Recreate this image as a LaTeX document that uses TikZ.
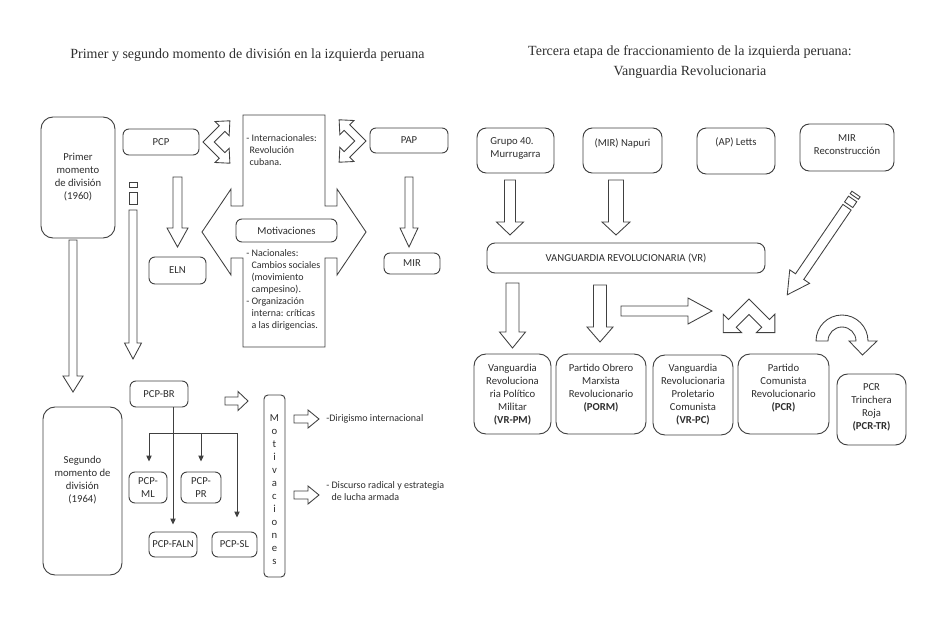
\documentclass[tikz,border=0pt]{standalone}
\usepackage{fontspec}
\setmainfont{Carlito}
\newfontfamily\ttlfont{Liberation Serif}
\usetikzlibrary{arrows.meta,calc}
\definecolor{lc}{HTML}{404040}
\definecolor{tc}{HTML}{2E2E2E}
\newcommand\fs{\fontsize{8}{9.75}\selectfont}
% box: [opts]{x1}{y1}{x2}{y2}{name}{text dy}{text}
\newcommand{\bx}[8][]{%
  \node[box,#1,minimum width={(#4-#2)*0.75pt},minimum height={(#5-#3)*0.75pt}] (#6) at ({(#2+#4)/2},{(#3+#5)/2}) {};
  \node[txt] (#6-t) at ($(#6.center)+(0,#7)$) {#8};}
% vertical block arrow: {cx}{ytop}{yhead}{ytip}{shaft half}{head half}
\newcommand{\varrow}[6]{\draw[blk] ({#1-#5},#2) -- ({#1+#5},#2) -- ({#1+#5},#3) -- ({#1+#6},#3) -- (#1,#4) -- ({#1-#6},#3) -- ({#1-#5},#3) -- cycle;}
% horizontal block arrow: {cy}{xleft}{xhead}{xtip}{shaft half}{head half}
\newcommand{\harrow}[6]{\draw[blk] (#2,{#1-#5}) -- (#3,{#1-#5}) -- (#3,{#1-#6}) -- (#4,#1) -- (#3,{#1+#6}) -- (#3,{#1+#5}) -- (#2,{#1+#5}) -- cycle;}
% L-shaped double arrow: {x}{y}{rot}{L}{w}{head w}{head l}
\newcommand{\larrow}[7]{\begin{scope}[shift={(#1,#2)},rotate=#3]
 \draw[blk] (0,0) -- ({#4-#7},0) -- ({#4-#7},{#5/2-#6/2}) -- (#4,{#5/2}) -- ({#4-#7},{#5/2+#6/2}) -- ({#4-#7},#5) -- (#5,#5) -- (#5,{#4-#7}) -- ({#5/2+#6/2},{#4-#7}) -- ({#5/2},#4) -- ({#5/2-#6/2},{#4-#7}) -- (0,{#4-#7}) -- cycle;
\end{scope}}
\begin{document}
\begin{tikzpicture}[x=0.75pt,y=-0.75pt,
 box/.style={draw=lc,line width=0.7pt,rounded corners=4.5pt,inner sep=0pt,fill=white},
 txt/.style={inner sep=0pt,align=center,text=tc,font=\fs},
 blk/.style={draw=lc,line width=0.65pt,fill=white,line join=miter},
 conn/.style={draw=lc,line width=0.75pt,-{Triangle[length=4.5pt,width=4pt]}},
 ttl/.style={inner sep=0pt,align=center,text=tc,font=\ttlfont\fontsize{10.5}{15}\selectfont}]
\useasboundingbox (0,0) rectangle (945,625);

% titles
\node[ttl] (t1) at (247.5,55) {Primer y segundo momento de división en la izquierda peruana};
\node[ttl] (t2) at (690,62) {Tercera etapa de fraccionamiento de la izquierda peruana:\\Vanguardia Revolucionaria};

% ---------- left part ----------
\bx[rounded corners=9pt]{41}{117}{115}{238}{primer}{0}{Primer\\momento\\de división\\(1960)}
\bx{123}{129}{199}{155}{pcp}{0}{PCP}
\bx{149}{257}{206}{284}{eln}{0}{ELN}
\bx{370}{128}{448}{153}{pap}{0}{PAP}
\bx{384}{253}{440}{274}{mir}{0}{MIR}

% callout
\draw[blk] (243,115) -- (325,115) -- (325,206) -- (337,206) -- (337,189) -- (366,232) -- (337,275) -- (337,258) -- (325,258) -- (325,347) -- (243,347) -- (243,258) -- (231,258) -- (231,275) -- (202,232) -- (231,189) -- (231,206) -- (243,206) -- cycle;
\bx{236}{219}{337}{242}{motiv}{0}{Motivaciones}
\node[txt,anchor=north west,align=left,font=\fontsize{7.5}{9}\selectfont] (intl) at (246,134.5) {- Internacionales:\\\hspace{2.5pt}Revolución\\\hspace{2.5pt}cubana.};
\node[txt,anchor=north west,align=left,font=\fontsize{7.5}{9}\selectfont] (nac) at (246,249.5) {- Nacionales:\\\phantom{- }Cambios sociales\\\phantom{- }(movimiento\\\phantom{- }campesino).\\- Organización\\\phantom{- }interna: críticas\\\phantom{- }a las dirigencias.};

\larrow{203}{142}{45}{34}{8}{20}{11}
\larrow{366}{141}{225}{34}{8}{20}{11}

\varrow{177.5}{177}{228}{247}{4.5}{10.5}
\varrow{409}{177}{228}{247}{4}{9}
\varrow{73}{240}{376}{392}{4}{10}
% striped arrow
\draw[blk] (129,182) rectangle (137,187);
\draw[blk] (129,192) rectangle (137,204);
\varrow{133}{210}{343}{359}{4}{8.5}

\bx[rounded corners=9pt]{43}{407}{122}{575}{segundo}{-11}{Segundo\\momento de\\división\\(1964)}
\bx{130}{381}{188}{407}{pcpbr}{0}{PCP-BR}
\bx{129}{472}{167}{503}{pcpml}{0}{PCP-\\ML}
\bx{181}{472}{221}{503}{pcppr}{0}{PCP-\\PR}
\bx{149}{532}{197}{557}{pcpfaln}{0}{PCP-FALN}
\bx{212}{532}{257}{557}{pcpsl}{0}{PCP-SL}
\bx[rounded corners=3pt]{264}{395}{285}{577}{motv}{4}{M\\o\\t\\i\\v\\a\\c\\i\\o\\n\\e\\s}

\coordinate (hl) at (149,433);
\coordinate (hr) at (237,433);
\draw[draw=lc,line width=0.75pt] (hl) -- (hr);
\draw[conn,shorten >=5.25pt] (pcpbr.south -| pcpfaln.north) -- (pcpfaln.north);
\draw[conn,shorten >=7.5pt] (hl) -- (hl |- pcpml.north);
\draw[conn,shorten >=7.5pt] (pcppr.north |- hl) -- (pcppr.north);
\draw[conn,shorten >=10.5pt] (hr) -- (hr |- pcpsl.north);

\harrow{401}{225}{238}{248}{4}{9.5}
\harrow{419}{294}{308}{319}{4}{9}
\harrow{495}{294}{308}{319}{4}{9}
\node[txt,anchor=west,font=\fontsize{7.5}{9}\selectfont] (dir) at (326,419) {-Dirigismo internacional};
\node[txt,anchor=west,align=left,font=\fontsize{7.5}{8.5}\selectfont] (disc) at (326,491) {- Discurso radical y estrategia\\\phantom{- }de lucha armada};

% ---------- right part ----------
\bx[rounded corners=7pt]{477}{128}{554}{173}{grupo}{-2}{\begin{tabular}{@{}l@{}}Grupo 40.\\Murrugarra\end{tabular}}
\bx[rounded corners=7pt]{583}{128}{662}{173}{napuri}{-7.5}{(MIR) Napuri}
\bx[rounded corners=7pt]{697}{128}{775}{174}{letts}{-9}{(AP) Letts}
\bx[rounded corners=7pt]{800}{124}{894}{171}{mirrec}{-2.5}{MIR\\Reconstrucción}
\bx[rounded corners=6pt]{487}{243}{765}{273}{vr}{0}{VANGUARDIA REVOLUCIONARIA (VR)}

\varrow{510}{180}{222}{235}{5.5}{13.5}
\varrow{616}{180}{222}{235}{7.5}{14}
\varrow{512.5}{283}{332}{348}{6.5}{13}
\varrow{600}{285}{327}{342}{6.5}{13}
\harrow{311}{621}{688}{712}{5}{13}

% diagonal striped arrow
\begin{scope}[shift={(856,194)},rotate=-124.3]
\draw[blk] (0,-5) rectangle (3,5);
\draw[blk] (6,-5) rectangle (13,5);
\draw[blk] (16,-5) -- (100,-5) -- (100,-12) -- (122,0) -- (100,12) -- (100,5) -- (16,5) -- cycle;
\end{scope}

\larrow{749}{299}{-45}{42}{11}{26}{13}

% U-turn arrow
\draw[blk] (816,341) arc[start angle=180,end angle=360,radius=26] -- (877,341) -- (862.5,355) -- (849,341) -- (856,341) arc[start angle=360,end angle=180,radius=14] -- cycle;

\bx[rounded corners=9pt]{474}{354}{551}{434}{vrpm}{1}{Vanguardia\\Revoluciona\\ria Político\\Militar\\\textbf{(VR-PM)}}
\bx[rounded corners=9pt]{556}{354}{646}{434}{porm}{-5.5}{Partido Obrero\\Marxista\\Revolucionario\\\textbf{(PORM)}}
\bx[rounded corners=9pt]{653}{355}{733}{435}{vrpc}{0}{Vanguardia\\Revolucionaria\\Proletario\\Comunista\\\textbf{(VR-PC)}}
\bx[rounded corners=9pt]{738}{354}{829}{434}{pcr}{-5.5}{Partido\\Comunista\\Revolucionario\\\textbf{(PCR)}}
\bx[rounded corners=8pt]{837}{374}{906}{445}{pcrtr}{-2}{PCR\\Trinchera\\Roja\\\textbf{(PCR-TR)}}
\end{tikzpicture}
\end{document}
